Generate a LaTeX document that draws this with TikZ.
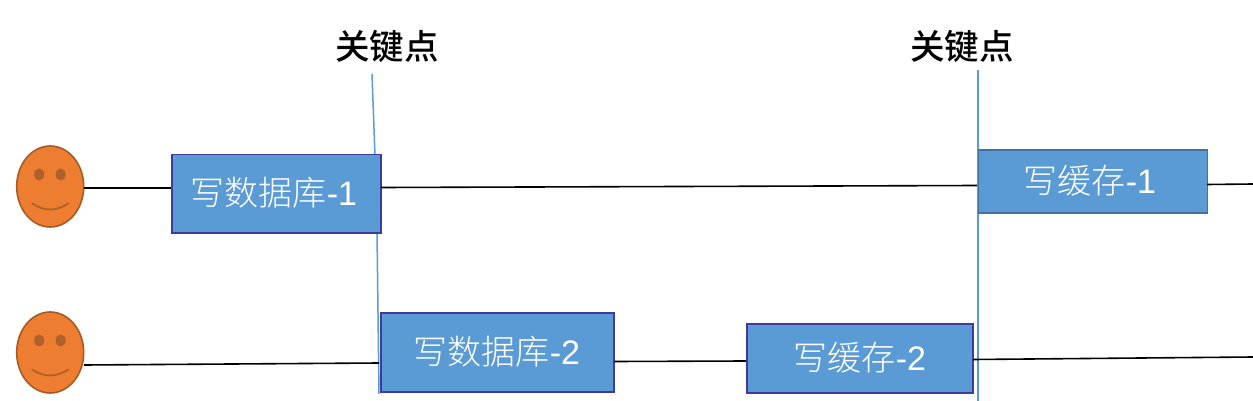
\documentclass[tikz,border=0pt]{standalone}
\usepackage{fontspec}
\setmainfont{Liberation Sans}
\newfontfamily\cjk{Noto Sans CJK SC Light}
\newfontfamily\cjkkey{Noto Sans CJK SC Medium}
\usetikzlibrary{shapes.geometric}
\definecolor{boxfill}{HTML}{5B9BD5}
\definecolor{edgea}{HTML}{3F3A9E}
\definecolor{edgeb}{HTML}{41719C}
\definecolor{facefill}{HTML}{ED7D31}
\definecolor{faceedge}{HTML}{A85A24}
\definecolor{eyefill}{HTML}{B0602A}
\definecolor{keyline}{HTML}{5B9BD5}
\newcommand{\boxtext}[2]{{\fontsize{34}{36}\selectfont\cjk #1\rmfamily #2}}
\tikzset{
  x=1pt,y=-1pt,
  facenode/.style={ellipse,draw=faceedge,fill=facefill,line width=1.6pt,minimum width=67pt,minimum height=81pt,inner sep=0pt},
  eyenode/.style={ellipse,fill=eyefill,minimum width=10pt,minimum height=12pt,inner sep=0pt},
  smileline/.style={draw=eyefill,line width=1.8pt,line cap=round},
  taskbox/.style={rectangle,fill=boxfill,text=white,line width=1.8pt,inner sep=0pt,anchor=north west},
  boxa/.style={taskbox,draw=edgea},
  boxb/.style={taskbox,draw=edgeb},
  keylabel/.style={font=\fontsize{34.5}{36}\selectfont\cjkkey,text=black,inner sep=0pt},
  keyrule/.style={draw=keyline,line width=1.5pt},
  flow/.style={draw=black,line width=1.6pt},
}
\begin{document}
\begin{tikzpicture}
\useasboundingbox (0,0) rectangle (1253,401);
% key labels and rules (behind the boxes)
\node[keylabel] (key1) at (387,46) {关键点};
\node[keylabel] (key2) at (962,46) {关键点};
\coordinate (k1a) at (372,74);
\coordinate (k1b) at (375,156);
\coordinate (k1c) at (377,232);
\coordinate (k1d) at (379,394);
\coordinate (k2a) at (978,70);
\coordinate (k2b) at (978,401);
\draw[keyrule] (k1a) -- (k1b);
\draw[keyrule] (k1c) -- (k1d);
\draw[keyrule] (k2a) -- (k2b);
% faces
\node[facenode] (face1) at (50.2,186.5) {};
\node[facenode] (face2) at (50.2,352.5) {};
\foreach \f in {1,2}{
  \node[eyenode] (eyeL\f) at ([shift={(-11,-12)}]face\f.center) {};
  \node[eyenode] (eyeR\f) at ([shift={(10.5,-12)}]face\f.center) {};
  \draw[smileline] ([shift={(-18,17)}]face\f.center) .. controls ([shift={(-6,25)}]face\f.center) and ([shift={(6,25)}]face\f.center) .. ([shift={(18,17)}]face\f.center);
}
% task boxes
\node[boxa,minimum width=209.5pt,minimum height=78.5pt] (db1) at (170.7,153.7) {};
\node[boxa,minimum width=233.5pt,minimum height=79.5pt] (db2) at (379.7,311.7) {};
\node[boxa,minimum width=226.5pt,minimum height=69.5pt] (ca2) at (745.7,322.7) {};
\node[boxb,minimum width=229pt,minimum height=62.5pt] (ca1) at (977.5,149.2) {};
\node[text=white,inner sep=0pt] (tdb1) at (274,193) {\boxtext{写数据库}{-1}};
\node[text=white,inner sep=0pt] (tdb2) at (497,352) {\boxtext{写数据库}{-2}};
\node[text=white,inner sep=0pt] (tca2) at (860,358) {\boxtext{写缓存}{-2}};
\node[text=white,inner sep=0pt] (tca1) at (1090,181) {\boxtext{写缓存}{-1}};
% free ends
\coordinate (end1) at (1253,184);
\coordinate (end2) at (1253,357);
\coordinate (f1out) at (84,187.9);
\coordinate (db1in) at (171,187.9);
\coordinate (f2out) at (84,365);
\coordinate (db2in) at (379,363);
\coordinate (db1out) at (381,187.5);
\coordinate (ca1in) at (977,185.5);
\coordinate (ca1out) at (1207,184.5);
\coordinate (db2out) at (614,361.5);
\coordinate (ca2in) at (746,361);
\coordinate (ca2out) at (973,359.5);
% connectors
\draw[flow] (f1out) -- (db1in);
\draw[flow] (db1out) -- (ca1in);
\draw[flow] (ca1out) -- (end1);
\draw[flow] (f2out) -- (db2in);
\draw[flow] (db2out) -- (ca2in);
\draw[flow] (ca2out) -- (end2);
\end{tikzpicture}
\end{document}
